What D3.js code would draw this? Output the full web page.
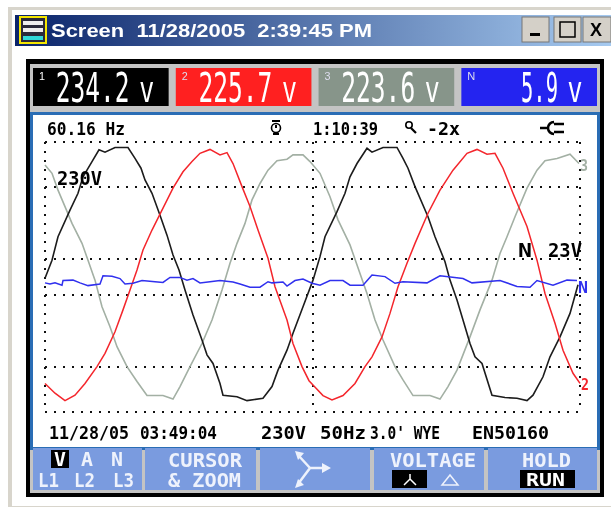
<!DOCTYPE html>
<html><head><meta charset="utf-8">
<script src="https://cdn.jsdelivr.net/npm/d3@7/dist/d3.min.js"></script>
<style>html,body{margin:0;padding:0;background:#fff;overflow:hidden}svg{display:block;filter:blur(.6px)}</style>
</head><body><svg id="c" width="611" height="508"></svg>
<script>
const titleText="Screen  11/28/2005  2:39:45 PM";
const readings=[{ch:"1",v:"234.2",fill:"#000000"},{ch:"2",v:"225.7",fill:"#ff2020"},{ch:"3",v:"223.6",fill:"#87958a"},{ch:"N",v:"5.9",fill:"#2424f0"}];
const gridVolts=[345,230,46,-46,-230,-345];
const gridSamples=[0,268,535];
const sampleDomain=[0,535], voltDomain=[-345,345], neutralDomain=[-34.5,34.5];

const l1S=[0,7,13,25,33,38,47,54,60,70,83,90,96,100,107,115,122,128,134,140,148,157,162,168,175,178,192,202,218,227,233,242,248,258,268,275,280,292,300,305,312,322,327,338,352,358,363,370,383,390,400,405,412,418,425,430,437,447,460,472,482,488,498,505,515,525,533];
const l1V=[-3,43,103,171,214,256,295,325,319,331,331,303,278,248,214,158,107,56,18,-33,-97,-161,-199,-221,-272,-302,-306,-316,-310,-280,-238,-187,-144,-76,-8,52,103,167,214,256,290,329,319,331,331,303,278,231,154,103,39,-8,-59,-110,-170,-204,-221,-302,-308,-310,-316,-302,-255,-204,-153,-93,-20];
const l2S=[0,10,20,30,40,52,60,70,78,85,92,98,107,117,128,138,147,155,165,175,182,188,197,205,213,223,230,242,248,257,264,268,278,287,298,310,320,327,337,345,353,362,370,383,395,408,422,432,442,450,458,468,482,492,500,510,518,528,535];
const l2V=[-272,-297,-316,-302,-272,-229,-195,-140,-84,-33,18,69,120,171,227,269,295,316,326,312,318,290,231,180,120,48,-25,-110,-170,-229,-265,-276,-303,-314,-303,-272,-229,-204,-153,-93,-25,35,86,163,222,273,316,326,314,316,278,214,129,43,-42,-118,-187,-246,-272];
const l3S=[0,7,13,20,27,37,43,50,57,65,72,82,92,102,118,128,135,145,157,167,177,185,192,200,207,215,223,232,242,248,258,265,275,285,293,305,315,322,330,338,350,358,368,385,395,403,412,425,435,447,455,462,470,482,492,500,512,525,534];
const l3V=[286,265,222,180,137,86,43,-8,-76,-127,-178,-229,-267,-303,-303,-312,-280,-229,-170,-110,-33,35,86,137,197,239,273,297,301,312,312,295,265,205,146,82,9,-42,-110,-161,-229,-263,-303,-303,-312,-280,-238,-153,-84,-8,60,103,154,227,273,297,303,314,290];
const nS=[0,5,10,17,18,28,35,43,55,58,67,75,80,88,97,110,118,125,135,142,148,155,165,175,188,195,205,215,223,227,238,242,250,258,267,275,285,298,305,318,327,340,350,358,382,395,418,427,455,472,485,492,508,522,532];
const nV=[-1.5,-1.8,-1.5,-2.1,-.9,-.8,-1.5,-2.2,-1.8,.3,.2,-.4,-1.8,-1.6,-.9,-1.2,-1.4,-.1,-.1,-.8,-.4,-1.5,-1.2,-.9,-1.3,-1.8,-2.6,-2.6,-1.2,-1.5,-1.3,-2.3,-.9,-.5,-1.6,-2.1,-.9,-.9,-2.1,-2.1,.5,.1,-1.6,-1.2,-1.5,.3,-.4,-1.5,-.9,-2.4,-2.6,-.9,-2.1,-.8,-.9];

const series=[{s:l3S,v:l3V,c:"#a3b0a4",w:1.6},{s:l1S,v:l1V,c:"#1c1c1c",w:1.6},{s:l2S,v:l2V,c:"#f4262c",w:1.5}];

const svg=d3.select("#c");
const x=d3.scaleLinear().domain(sampleDomain).range([45,580]);
const y=d3.scaleLinear().domain(voltDomain).range([412,142]);
const yN=d3.scaleLinear().domain(neutralDomain).range([412,142]);
const rect=(a,b,w,h,f)=>svg.append("rect").attr("x",a).attr("y",b).attr("width",w).attr("height",h).attr("fill",f);
const txt=(a,b,t,len,o={})=>{
  const s=svg.append("text").attr("x",a).attr("y",b).text(t)
  .attr("font-family",o.ff||"'DejaVu Sans Mono',monospace").attr("font-weight",o.fw||"bold")
  .attr("font-size",o.fs||18).attr("fill",o.c||"#000").style("white-space","pre");
  if(len)s.attr("textLength",len).attr("lengthAdjust","spacingAndGlyphs");
  return s;
};
// horizontally scaled text so its box really is the span it occupies
const squeezed=(a,b,t,len,fs)=>{
  const s=svg.append("text").text(t).attr("font-family","'DejaVu Sans Mono',monospace").attr("font-size",fs).attr("fill","#fff");
  const sx=len/s.node().getComputedTextLength();
  return s.attr("transform",`translate(${a},${b}) scale(${sx},1)`);
};

// window
rect(0,0,611,508,"#fff");
rect(8,7,603,500,"#d8d5cc");
rect(12,10,599,496,"#ffffff");
const g=svg.append("defs").append("linearGradient").attr("id","tb");
g.append("stop").attr("offset",0).attr("stop-color","#0a246a");
g.append("stop").attr("offset",1).attr("stop-color","#a6caf0");
rect(15,15,596,31,"url(#tb)");
rect(19,16,28,28,"#f4e600");rect(21,18,24,24,"#2a2a3a");
rect(23,21,20,4,"#eee");rect(23,28,20,4,"#eee");rect(23,36,20,4,"#30d8d8");
txt(51,37,titleText,321,{ff:"'Liberation Sans',sans-serif",fs:18,c:"#fff"});
[[522,"min"],[554,"max"],[583,"x"]].forEach(([a,k])=>{
  rect(a,17,k=="x"?28:27,25,"#d4d0c8").attr("stroke","#777").attr("stroke-width",1);
  if(k=="min")rect(a+8,33,10,3,"#000");
  if(k=="max")svg.append("rect").attr("x",a+6).attr("y",22).attr("width",15).attr("height",15).attr("fill","none").attr("stroke","#000").attr("stroke-width",1.5);
  if(k=="x")txt(a+7,36,"X",0,{ff:"'Liberation Sans',sans-serif",fs:18});
});
// instrument frame
rect(26,59,578,438,"#000");
rect(30,64,570,429,"#c4c4c4");
const bx=d3.scaleBand().domain(readings.map(d=>d.ch)).range([33,597]).paddingInner(.05);
readings.forEach(d=>{
  const a=bx(d.ch),w=bx.bandwidth(),len=d.v.length==5?74:37;
  rect(a,68,w,38,d.fill);
  txt(a+6,80,d.ch,d.ch=="N"?8:6,{ff:"'Liberation Sans',sans-serif",fw:"normal",fs:11,c:d.fill=="#000000"?"#fff":"#dde"});
  squeezed(a+w-39-len,102,d.v,len,40);
  squeezed(a+w-29,102,"V",14,27);
});
rect(30,112,570,338,"#2a6db5");
rect(33,115,564,332,"#ffffff");
// header
txt(47,135,"60.16 Hz",78);
txt(313,135,"1:10:39",65);
txt(427,135,"-2x",33,{fs:17});
svg.append("circle").attr("cx",276).attr("cy",128).attr("r",4.5).attr("fill","none").attr("stroke","#000").attr("stroke-width",1.6);
svg.append("path").attr("d","M272 121h8M276 125v3M273 134h6").attr("stroke","#000").attr("stroke-width",2);
svg.append("circle").attr("cx",409).attr("cy",125).attr("r",3.2).attr("fill","none").attr("stroke","#000").attr("stroke-width",1.6);
svg.append("path").attr("d","M411 128l5 5").attr("stroke","#000").attr("stroke-width",2.2);
svg.append("path").attr("d","M540 128h7M554 122a6 6 0 0 0 0 12M554 124h10M554 132h10").attr("fill","none").attr("stroke","#000").attr("stroke-width",2.5);
// grid
svg.append("g").selectAll("line").data(gridVolts).join("line")
  .attr("x1",x(0)).attr("x2",x(535)).attr("y1",d=>y(d)).attr("y2",d=>y(d))
  .attr("stroke","#111").attr("stroke-width",2).attr("stroke-dasharray","2 7");
svg.append("g").selectAll("line").data(gridSamples).join("line")
  .attr("x1",d=>x(d)).attr("x2",d=>x(d)).attr("y1",y(345)).attr("y2",y(-345))
  .attr("stroke","#111").attr("stroke-width",2).attr("stroke-dasharray","2 7");
// curves
const line=(ys)=>d3.line().x(d=>x(d[0])).y(d=>ys(d[1]));
series.forEach(d=>svg.append("path").attr("d",line(y)(d3.zip(d.s,d.v))).attr("fill","none").attr("stroke",d.c).attr("stroke-width",d.w));
svg.append("path").attr("d",line(yN)(d3.zip(nS,nV))).attr("fill","none").attr("stroke","#3030ee").attr("stroke-width",1.5);
// labels
txt(57,185,"230V",45,{fs:19});
txt(518,257,"N",14,{fs:19});
txt(548,257,"23V",34,{fs:19});
txt(580,171,"3",8,{c:"#a3b0a4",fs:15});
txt(581,390,"2",8,{c:"#f4262c",fs:15});
txt(578,293,"N",10,{c:"#3030ee",fs:15});
// footer
txt(49,439,"11/28/05",80);
txt(140,439,"03:49:04",77);
txt(261,439,"230V",45);
txt(320,439,"50Hz",46);
txt(370,439,"3.0' WYE",70);
txt(472,439,"EN50160",77);
// buttons
[[33,109],[145,111],[260,110],[374,110],[488,109]].forEach(b=>rect(b[0],448,b[1],42,"#7a9bdf"));
const bf={c:"#eef2fc",fs:19};
rect(51,450,18,18,"#000");
txt(54,466,"V",12,{fs:19,c:"#fff"});
txt(81,466,"A",12,bf);txt(111,466,"N",12,bf);
txt(38,487,"L1",21,bf);txt(74,487,"L2",21,bf);txt(113,487,"L3",21,bf);
txt(168,467,"CURSOR",74,bf);
txt(168,487,"& ZOOM",73,bf);
svg.append("path").attr("d","M298 455l12 13l-12 16M310 468h17").attr("fill","none").attr("stroke","#eef2fc").attr("stroke-width",2.5);
svg.append("path").attr("d","M295 451l9 2l-6 7zM295 488l9-3l-6-6zM331 468l-9-5v10z").attr("fill","#eef2fc");
txt(390,467,"VOLTAGE",86,bf);
rect(392,470,35,18,"#000");
svg.append("path").attr("d","M404 485l6-6l6 6M410 479v-5").attr("fill","none").attr("stroke","#fff").attr("stroke-width",1.5);
svg.append("path").attr("d","M442 485l8-10l8 10z").attr("fill","none").attr("stroke","#eef2fc").attr("stroke-width",1.5);
txt(522,467,"HOLD",49,bf);
rect(520,470,55,18,"#000");
txt(526,486,"RUN",39,{fs:18,c:"#fff"});
</script></body></html>
